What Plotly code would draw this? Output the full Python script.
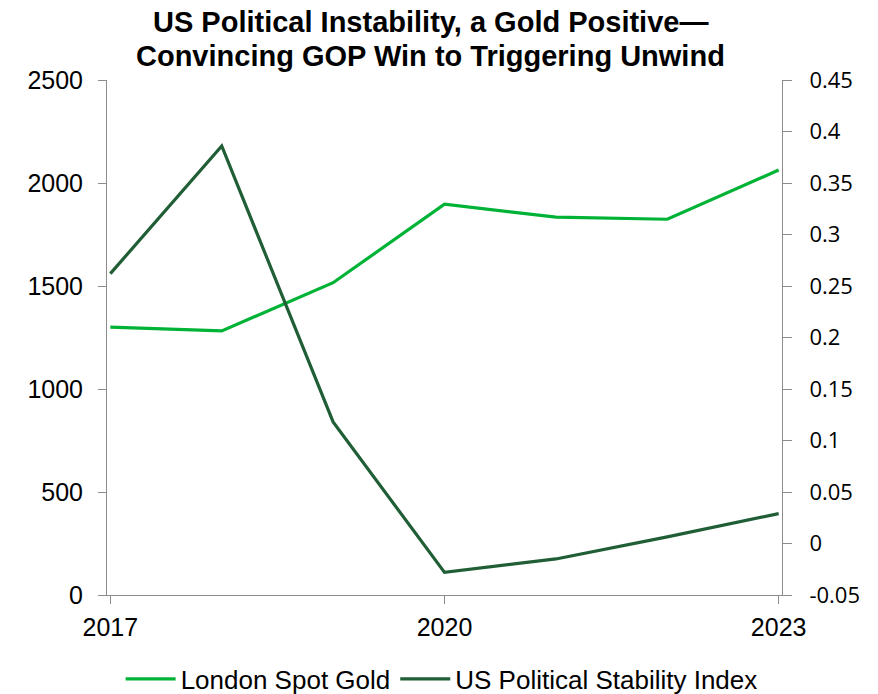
import plotly.graph_objects as go

# Annual series, 2017-2023
years = [2017, 2018, 2019, 2020, 2021, 2022, 2023]
gold_price = [1300, 1282, 1516, 1897, 1834, 1824, 2063]
stability_index = [0.262, 0.386, 0.118, -0.028, -0.015, 0.0065, 0.029]

left_ticks = [0, 500, 1000, 1500, 2000, 2500]
right_ticks = [-0.05, 0, 0.05, 0.1, 0.15, 0.2, 0.25, 0.3, 0.35, 0.4, 0.45]
right_tick_text = ["-0.05", "0", "0.05", "0.1", "0.15", "0.2", "0.25", "0.3", "0.35", "0.4", "0.45"]
x_ticks = [2017, 2020, 2023]

title_lines = ["US Political Instability, a Gold Positive—",
               "Convincing GOP Win to Triggering Unwind"]

GOLD_COLOR = "#00B336"
STAB_COLOR = "#205E36"
AXIS_COLOR = "#8C8C8C"

fig = go.Figure()
fig.add_trace(go.Scatter(
    x=years, y=gold_price, name="London Spot Gold", mode="lines",
    line=dict(color=GOLD_COLOR, width=3.2), yaxis="y"))
fig.add_trace(go.Scatter(
    x=years, y=stability_index, name="US Political Stability Index", mode="lines",
    line=dict(color=STAB_COLOR, width=3.2), yaxis="y2"))

# Two-line bold heading, each line placed on its own
title_font = dict(family="Liberation Sans", size=29, color="black", weight="bold")
for line_text, ypos in zip(title_lines, [1 - 22 / 694, 1 - 56 / 694]):
    fig.add_annotation(
        text=line_text, xref="paper", yref="paper",
        x=(430 - 107) / (878 - 107 - 96), y=(595 - (1 - ypos) * 694) / 515,
        xanchor="center", yanchor="middle", showarrow=False, font=title_font)

fig.update_layout(
    width=878, height=694,
    margin=dict(l=107, r=96, t=80, b=99, autoexpand=False),
    paper_bgcolor="white", plot_bgcolor="white",
    xaxis=dict(
        range=[2016.97, 2023.03], tickvals=x_ticks, ticktext=[str(v) for v in x_ticks],
        showgrid=False, zeroline=False, showline=True, linecolor=AXIS_COLOR, linewidth=1,
        ticks="outside", ticklen=8, tickcolor=AXIS_COLOR, ticklabelstandoff=2,
        tickfont=dict(family="Liberation Sans", size=25, color="black")),
    yaxis=dict(
        range=[0, 2500], tickvals=left_ticks, ticktext=[str(v) for v in left_ticks],
        showgrid=False, zeroline=False, showline=True, linecolor=AXIS_COLOR, linewidth=1,
        ticks="outside", ticklen=8, tickcolor=AXIS_COLOR, ticklabelstandoff=10,
        tickfont=dict(family="Liberation Sans", size=25, color="black")),
    yaxis2=dict(
        range=[-0.05, 0.45], tickvals=right_ticks, ticktext=right_tick_text,
        overlaying="y", side="right",
        showgrid=False, zeroline=False, showline=True, linecolor=AXIS_COLOR, linewidth=1,
        ticks="outside", ticklen=9, tickcolor=AXIS_COLOR, ticklabelstandoff=13,
        tickfont=dict(family="Open Sans", size=22, color="black")),
    legend=dict(
        orientation="h", x=0.503, xanchor="center", xref="container",
        y=15 / 694, yanchor="middle", yref="container",
        font=dict(family="Liberation Sans", size=26, color="black"),
        itemwidth=50, tracegroupgap=0),
    showlegend=True,
)

fig.write_html("out.html")
